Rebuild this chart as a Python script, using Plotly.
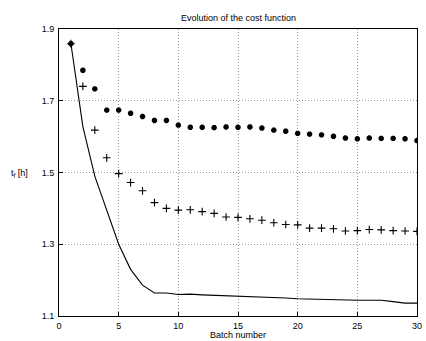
import plotly.graph_objects as go

batch = list(range(1, 31))
star_vals = [1.859, 1.785, 1.733, 1.674, 1.674, 1.665, 1.656, 1.645, 1.645, 1.632,
             1.626, 1.626, 1.625, 1.627, 1.626, 1.627, 1.624, 1.618, 1.615, 1.609,
             1.607, 1.605, 1.601, 1.596, 1.594, 1.596, 1.595, 1.595, 1.594, 1.589]
plus_vals = [1.859, 1.740, 1.618, 1.541, 1.497, 1.472, 1.449, 1.416, 1.400, 1.395,
             1.396, 1.391, 1.386, 1.376, 1.375, 1.371, 1.367, 1.360, 1.355, 1.354,
             1.345, 1.345, 1.343, 1.337, 1.338, 1.341, 1.340, 1.338, 1.337, 1.336]
line_vals = [1.859, 1.628, 1.490, 1.395, 1.300, 1.230, 1.186, 1.164, 1.164, 1.160,
             1.161, 1.159, 1.158, 1.157, 1.155, 1.154, 1.153, 1.152, 1.150, 1.148,
             1.147, 1.145, 1.144, 1.144, 1.144, 1.144, 1.144, 1.140, 1.136, 1.136]
x_ticks = [0, 5, 10, 15, 20, 25, 30]
y_ticks = [1.1, 1.3, 1.5, 1.7, 1.9]
y_tick_text = ["1.1", "1.3", "1.5", "1.7", "1.9"]

FONT = "Liberation Sans, Arial, Helvetica, sans-serif"

fig = go.Figure()
fig.add_trace(go.Scatter(x=batch, y=line_vals, mode="lines",
                         line=dict(color="black", width=1.1), showlegend=False))
fig.add_trace(go.Scatter(x=batch, y=plus_vals, mode="markers",
                         marker=dict(symbol="cross-thin-open", size=5.5, color="black",
                                     line=dict(color="black", width=1.1)),
                         showlegend=False))
fig.add_trace(go.Scatter(x=batch, y=star_vals, mode="markers",
                         marker=dict(symbol="asterisk-open", size=4.5, color="black",
                                     line=dict(color="black", width=2)),
                         showlegend=False))

axis_common = dict(showline=True, linecolor="black", linewidth=1, mirror=True,
                   ticks="inside", ticklen=4, tickcolor="black", tickwidth=1,
                   showgrid=True, gridcolor="#9a9a9a", gridwidth=1, griddash="1px,2px",
                   zeroline=False, ticklabeloverflow="allow",
                   tickfont=dict(family=FONT, size=9, color="black"))

fig.update_xaxes(range=[0, 30], tickvals=x_ticks, ticklabelstandoff=1, **axis_common)
fig.update_yaxes(range=[1.1, 1.9], tickvals=y_ticks, ticktext=y_tick_text,
                 ticklabelstandoff=2, **axis_common)

fig.update_layout(
    width=426, height=341,
    margin=dict(l=59, r=4, t=29, b=25, pad=0),
    paper_bgcolor="white", plot_bgcolor="white",
    font=dict(family=FONT, size=9, color="black"),
    annotations=[
        dict(text="Evolution of the cost function", x=0.5, y=1.04, xref="paper", yref="paper",
             xanchor="center", yanchor="middle", showarrow=False,
             font=dict(family=FONT, size=9, color="black")),
        dict(text="Batch number", x=0.5, y=-0.065, xref="paper", yref="paper",
             xanchor="center", yanchor="middle", showarrow=False,
             font=dict(family=FONT, size=9, color="black")),
        dict(text="t<sub>f</sub> [h]", x=-0.109, y=0.495, xref="paper", yref="paper",
             xanchor="center", yanchor="middle", showarrow=False,
             font=dict(family=FONT, size=9, color="black")),
    ],
)

fig.write_html("out.html", config={"displayModeBar": False},
               post_script="document.body.style.margin='0';document.body.style.padding='0';")
